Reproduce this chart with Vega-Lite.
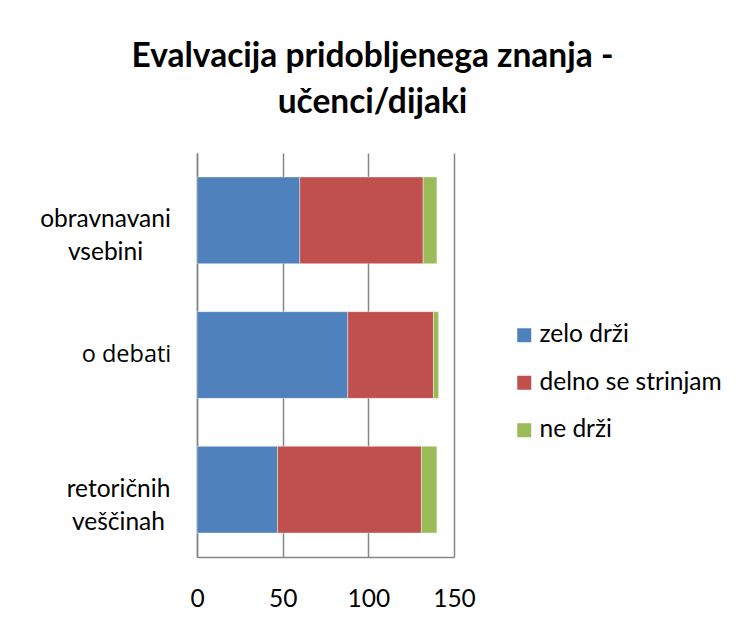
{
  "$schema": "https://vega.github.io/schema/vega-lite/v6.json",
  "width": 257,
  "height": 404,
  "autosize": {"type": "none"},
  "padding": {"left": 197, "top": 153, "right": 290, "bottom": 79},
  "background": "white",
  "title": {
    "text": ["Evalvacija pridobljenega znanja -", "učenci/dijaki"],
    "font": "Lato",
    "fontSize": 33.5,
    "fontWeight": "bold",
    "color": "#000000",
    "anchor": "middle",
    "frame": "group",
    "dx": 47,
    "offset": 33,
    "lineHeight": 46
  },
  "data": {
    "values": [
      {"topic": "obravnavani vsebini", "answer": "zelo drži", "rank": 1, "count": 60},
      {"topic": "obravnavani vsebini", "answer": "delno se strinjam", "rank": 2, "count": 72},
      {"topic": "obravnavani vsebini", "answer": "ne drži", "rank": 3, "count": 8},
      {"topic": "o debati", "answer": "zelo drži", "rank": 1, "count": 88},
      {"topic": "o debati", "answer": "delno se strinjam", "rank": 2, "count": 50},
      {"topic": "o debati", "answer": "ne drži", "rank": 3, "count": 3},
      {"topic": "retoričnih veščinah", "answer": "zelo drži", "rank": 1, "count": 47},
      {"topic": "retoričnih veščinah", "answer": "delno se strinjam", "rank": 2, "count": 84},
      {"topic": "retoričnih veščinah", "answer": "ne drži", "rank": 3, "count": 9}
    ]
  },
  "mark": {"type": "bar", "stroke": "#ffffff", "strokeOpacity": 0.5, "strokeWidth": 0.8},
  "encoding": {
    "y": {
      "field": "topic",
      "type": "nominal",
      "sort": ["obravnavani vsebini", "o debati", "retoričnih veščinah"],
      "scale": {"paddingInner": 0.356, "paddingOuter": 0.178},
      "axis": {
        "title": null,
        "ticks": false,
        "domain": true,
        "domainColor": "#868686",
        "domainWidth": 1.5,
        "labelFont": {
          "condition": {"test": "datum.value == 'o debati'", "value": "Open Sans"},
          "value": "Lato"
        },
        "labelFontSize": {
          "condition": {"test": "datum.value == 'o debati'", "value": 23.5},
          "value": 24.5
        },
        "labelColor": "#000000",
        "labelAlign": "center",
        "labelPadding": {
          "condition": [
            {"test": "datum.value == 'obravnavani vsebini'", "value": 92},
            {"test": "datum.value == 'o debati'", "value": 71}
          ],
          "value": 79
        },
        "labelLineHeight": 33,
        "labelExpr": "datum.label == 'o debati' ? datum.label : split(datum.label, ' ')",
        "labelLimit": 300
      }
    },
    "x": {
      "field": "count",
      "type": "quantitative",
      "stack": "zero",
      "scale": {"domain": [0, 150], "nice": false},
      "axis": {
        "title": null,
        "values": [0, 50, 100, 150],
        "ticks": false,
        "grid": true,
        "gridColor": "#868686",
        "gridWidth": 1.5,
        "domain": true,
        "domainColor": "#868686",
        "domainWidth": 1.5,
        "labelFont": "Lato",
        "labelFontSize": 24.5,
        "labelColor": "#000000",
        "labelPadding": 30,
        "labelFlush": false
      }
    },
    "color": {
      "field": "answer",
      "type": "nominal",
      "sort": ["zelo drži", "delno se strinjam", "ne drži"],
      "scale": {
        "domain": ["zelo drži", "delno se strinjam", "ne drži"],
        "range": ["#4F81BD", "#C0504D", "#9BBB59"]
      },
      "legend": {
        "title": null,
        "orient": "none",
        "legendX": 315,
        "legendY": 170,
        "padding": 0,
        "symbolType": "square",
        "symbolSize": 196,
        "symbolStrokeWidth": 0,
        "labelFont": "Lato",
        "labelFontSize": 24.5,
        "labelColor": "#000000",
        "labelOffset": 3,
        "rowPadding": 22.5,
        "labelLimit": 300
      }
    },
    "order": {"field": "rank", "type": "quantitative"}
  },
  "config": {
    "view": {"stroke": null}
  }
}
